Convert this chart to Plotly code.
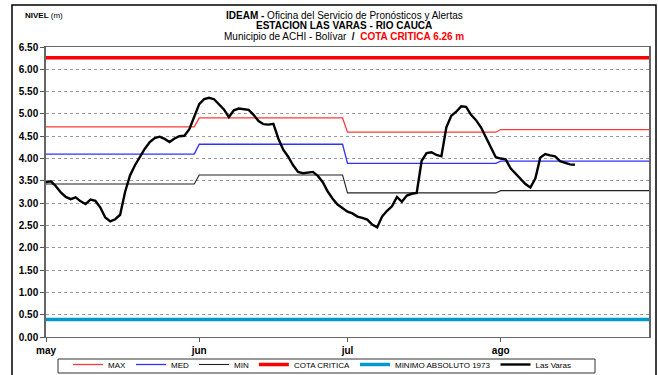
import pandas as pd
import plotly.graph_objects as go

# Monthly reference levels (m)
months = ["may", "jun", "jul", "ago"]
max_vals = [4.71, 4.91, 4.59, 4.65]
med_vals = [4.10, 4.32, 3.89, 3.94]
min_vals = [3.43, 3.63, 3.23, 3.28]
cota_critica = 6.26
minimo_absoluto = 0.39

# Daily stage at Las Varas from 1 May
las_varas_start = "2010-05-01"
las_varas = [
    3.47, 3.49, 3.38, 3.24, 3.14, 3.09, 3.13, 3.04, 2.98, 3.08,
    3.05, 2.90, 2.68, 2.59, 2.64, 2.74, 3.25, 3.62, 3.85, 4.05,
    4.22, 4.37, 4.46, 4.49, 4.44, 4.37, 4.45, 4.50, 4.51, 4.66,
    4.92, 5.22, 5.33, 5.36, 5.33, 5.21, 5.10, 4.93, 5.08, 5.12,
    5.11, 5.09, 4.98, 4.84, 4.77, 4.76, 4.78, 4.45, 4.20, 4.04,
    3.85, 3.70, 3.67, 3.68, 3.70, 3.61, 3.47, 3.26, 3.10, 2.97,
    2.88, 2.81, 2.77, 2.70, 2.67, 2.63, 2.52, 2.46, 2.70, 2.83,
    2.93, 3.14, 3.03, 3.17, 3.21, 3.23, 3.95, 4.12, 4.14, 4.08,
    4.05, 4.70, 4.96, 5.05, 5.17, 5.16, 4.98, 4.86, 4.70, 4.47,
    4.24, 4.03, 4.00, 3.98, 3.78, 3.66, 3.54, 3.43, 3.35, 3.55,
    4.02, 4.10, 4.07, 4.05, 3.94, 3.91, 3.87, 3.86,
]

month_ticks = ["2010-05-01", "2010-06-01", "2010-07-01", "2010-08-01"]

days = pd.date_range("2010-05-01", "2010-08-31", freq="D")
month_idx = {5: 0, 6: 1, 7: 2, 8: 3}
daily_max = [max_vals[month_idx[d.month]] for d in days]
daily_med = [med_vals[month_idx[d.month]] for d in days]
daily_min = [min_vals[month_idx[d.month]] for d in days]
lv_days = pd.date_range(las_varas_start, periods=len(las_varas), freq="D")

fig = go.Figure()
fig.add_trace(go.Scatter(x=days, y=daily_max, mode="lines", name="MAX",
                         line=dict(color="#FF3B3B", width=1.3)))
fig.add_trace(go.Scatter(x=days, y=daily_med, mode="lines", name="MED",
                         line=dict(color="#3030FF", width=1.3)))
fig.add_trace(go.Scatter(x=days, y=daily_min, mode="lines", name="MIN",
                         line=dict(color="#222222", width=1.1)))
fig.add_trace(go.Scatter(x=[days[0], days[-1]], y=[cota_critica] * 2, mode="lines",
                         name="COTA CRITICA", line=dict(color="#FF0000", width=3.5)))
fig.add_trace(go.Scatter(x=[days[0], days[-1]], y=[minimo_absoluto] * 2, mode="lines",
                         name="MINIMO ABSOLUTO 1973", line=dict(color="#0099CC", width=3.5)))
fig.add_trace(go.Scatter(x=lv_days, y=las_varas, mode="lines", name="Las Varas",
                         line=dict(color="#000000", width=2.4)))

L, R, T, B = 46, 9, 47, 38
W, H = 658, 375
pw, ph = W - L - R, H - T - B

def px(x):
    return (x - L) / pw

def py(y):
    return (H - B - y) / ph

fig.update_layout(
    width=W, height=H,
    margin=dict(l=L, r=R, t=T, b=B, autoexpand=False),
    paper_bgcolor="white", plot_bgcolor="white",
    font=dict(family="Arial, Liberation Sans, sans-serif", color="#000"),
    showlegend=True,
    legend=dict(orientation="h", x=px(68), xanchor="left", y=py(350), yanchor="top",
                borderwidth=0, font=dict(size=8), itemwidth=30,
                bgcolor="rgba(0,0,0,0)", tracegroupgap=0),
    xaxis=dict(type="date", range=["2010-05-01", "2010-08-31"],
               tickvals=month_ticks, ticktext=months,
               tickfont=dict(size=10, weight="bold"),
               ticks="outside", ticklen=4, tickcolor="#555",
               showgrid=False, showline=True, linecolor="#666", linewidth=1,
               mirror=True, zeroline=False),
    yaxis=dict(range=[0, 6.5], dtick=0.5, tickformat=".2f",
               tickfont=dict(size=10, weight="bold"),
               ticks="outside", ticklen=4, tickcolor="#555",
               showgrid=True, gridcolor="#9a9a9a", griddash="dot", gridwidth=1,
               showline=True, linecolor="#666", linewidth=1.5, mirror=True,
               zeroline=False),
)

# Outer frame around the whole chart
fig.add_shape(type="rect", xref="paper", yref="paper",
              x0=px(12), x1=px(656), y0=py(380), y1=py(5),
              line=dict(color="#000", width=1.5), layer="below")
# Legend frame
fig.add_shape(type="rect", xref="paper", yref="paper",
              x0=px(58), x1=px(595), y0=py(373), y1=py(359),
              line=dict(color="#333", width=1), layer="below")

title_x = px(344)
fig.add_annotation(xref="paper", yref="paper", x=title_x, y=py(15), showarrow=False,
                   xanchor="center", yanchor="middle", font=dict(size=10),
                   text="<b>IDEAM -</b> Oficina del Servicio de Pronósticos y Alertas")
fig.add_annotation(xref="paper", yref="paper", x=title_x, y=py(26), showarrow=False,
                   xanchor="center", yanchor="middle", font=dict(size=10),
                   text="<b>ESTACION LAS VARAS - RIO CAUCA</b>")
fig.add_annotation(xref="paper", yref="paper", x=title_x, y=py(37), showarrow=False,
                   xanchor="center", yanchor="middle", font=dict(size=10),
                   text="Municipio de ACHI - Bolívar  <b>/</b>  "
                        "<span style='color:#FF0000'><b>COTA CRITICA 6.26 m</b></span>")
fig.add_annotation(xref="paper", yref="paper", x=px(23), y=py(15), showarrow=False,
                   xanchor="left", yanchor="middle", font=dict(size=8),
                   text="<b>NIVEL</b> (m)")

fig.write_html("out.html")
